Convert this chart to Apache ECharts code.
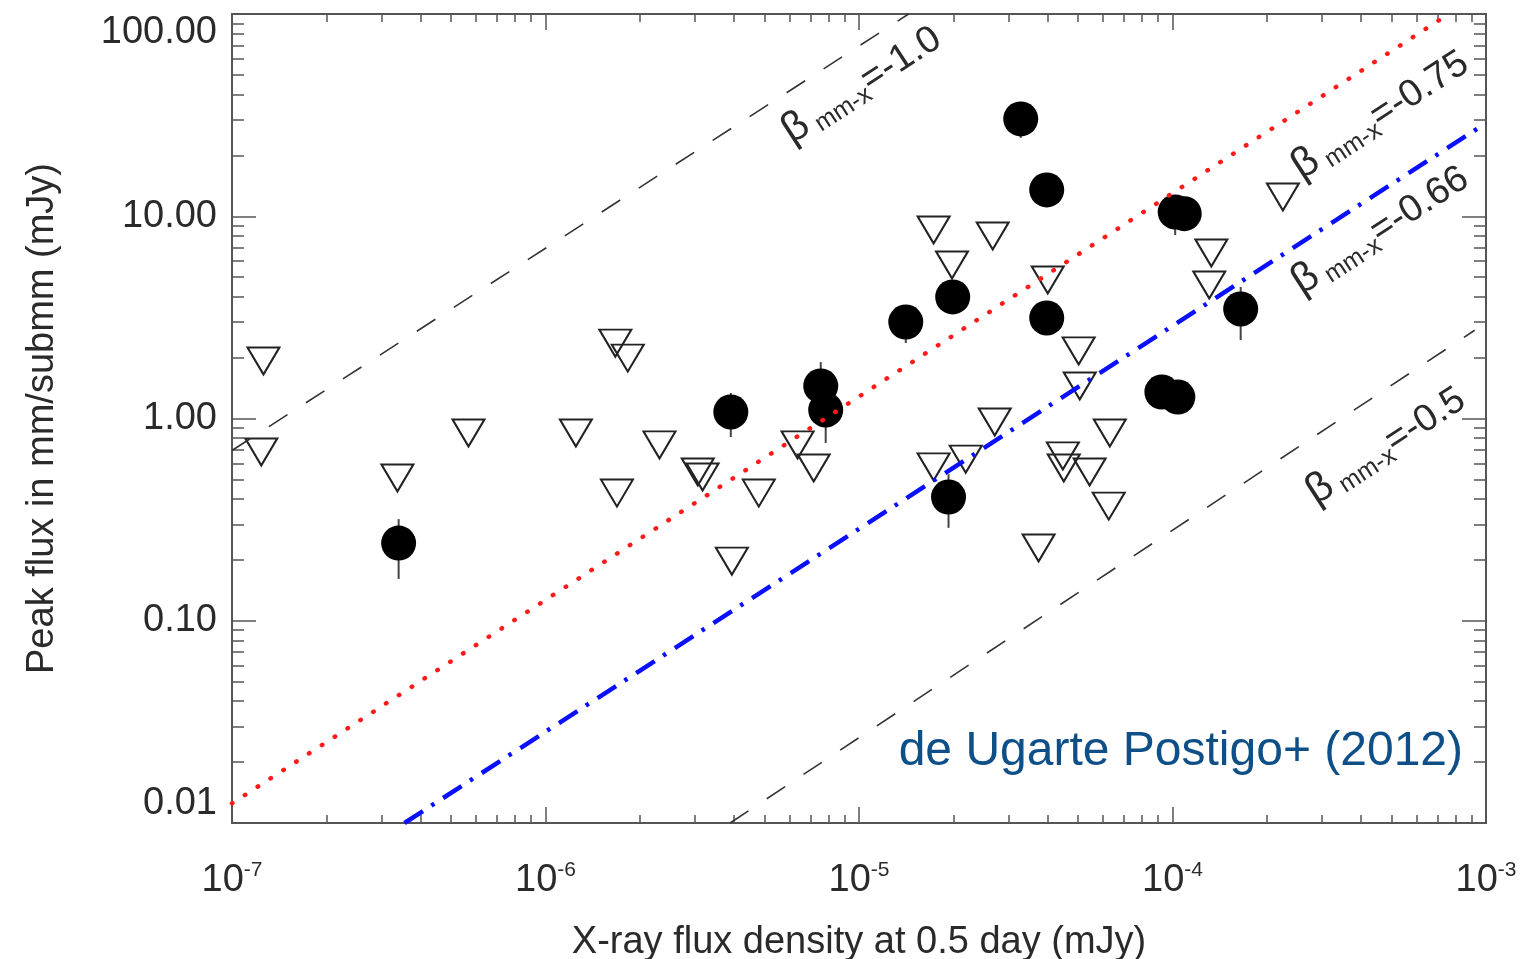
<!DOCTYPE html>
<html lang="en">

<head>
    <meta charset="UTF-8">
    <title>Peak flux vs X-ray flux</title>
    <style>
        html, body {
            margin: 0;
            padding: 0;
            background: #fff;
        }

        #chart {
            width: 1532px;
            height: 959px;
        }
    </style>
</head>

<body>
    <div id="chart"></div>
    <script src="https://cdn.jsdelivr.net/npm/echarts@6/dist/echarts.min.js"></script>
    <script>
        // detections (filled circles) with error bars
        var detX = [3.40e-7, 3.90e-6, 7.55e-6, 7.83e-6, 1.41e-5, 1.99e-5, 1.93e-5, 3.28e-5, 3.97e-5, 3.97e-5, 1.02e-4, 1.09e-4, 9.25e-5, 1.04e-4, 1.65e-4];
        var detY = [0.242, 1.077, 1.448, 1.102, 3.00, 3.99, 0.409, 30.3, 13.5, 3.14, 10.5, 10.3, 1.352, 1.277, 3.48];
        var detLo = [0.161, 0.810, 1.10, 0.757, 2.36, 3.60, 0.288, 24.4, 12.2, 2.85, 8.07, 8.6, 1.18, 1.12, 2.44];
        var detHi = [0.318, 1.337, 1.90, 1.447, 3.64, 4.40, 0.53, 36.2, 14.8, 3.43, 12.7, 12.0, 1.52, 1.43, 4.47];

        // upper limits (open triangles)
        var limX = [1.26e-7, 1.24e-7, 3.37e-7, 5.68e-7, 1.25e-6, 1.67e-6, 1.83e-6, 2.31e-6, 1.69e-6, 3.06e-6, 3.17e-6,
            4.79e-6, 3.93e-6, 6.37e-6, 7.17e-6, 1.73e-5, 2.67e-5, 1.98e-5, 4.00e-5, 5.02e-5, 5.06e-5, 2.71e-5,
            2.19e-5, 1.73e-5, 6.31e-5, 4.47e-5, 4.50e-5, 5.44e-5, 6.26e-5, 3.74e-5, 1.33e-4, 1.31e-4, 2.25e-4];
        var limY = [1.925, 0.683, 0.508, 0.848, 0.848, 2.36, 1.99, 0.740, 0.428, 0.544, 0.514,
            0.428, 0.197, 0.740, 0.569, 8.55, 7.99, 5.74, 4.84, 2.16, 1.448, 0.961,
            0.630, 0.576, 0.848, 0.653, 0.569, 0.544, 0.369, 0.229, 6.58, 4.57, 12.45];

        // guide lines, end points
        var lineBeta100 = [[1e-7, 0.695], [1.44e-5, 100]];
        var lineBeta075 = [[1e-7, 0.0125], [7.6e-4, 100]];
        var lineBeta066 = [[3.55e-7, 0.01], [1e-3, 28.9]];
        var lineBeta050 = [[3.88e-6, 0.01], [9.2e-4, 2.73]];

        // where the beta labels sit (data coords) and their text
        var betaLabelPos = [[1.02e-5, 44.5], [4.6e-4, 31.6], [4.6e-4, 8.5], [4.8e-4, 0.73]];
        var betaValues = ['-1.0', '-0.75', '-0.66', '-0.5'];

        // tick values
        var xMajor = [1e-7, 1e-6, 1e-5, 1e-4, 1e-3];
        var yMajor = [0.01, 0.1, 1, 10, 100];
        var minorSteps = [2, 3, 4, 5, 6, 7, 8, 9];

        function minorTicks(decades) {
            var out = [];
            for (var i = 0; i < decades.length - 1; i++) {
                for (var j = 0; j < minorSteps.length; j++) {
                    out.push(decades[i] * minorSteps[j]);
                }
            }
            return out;
        }
        var xMinor = minorTicks(xMajor);
        var yMinor = minorTicks(yMajor);

        var font = 'Liberation Sans';
        var axisColor = '#555';
        var textColor = '#2a2a2a';

        function xAxisDef(pos, major) {
            return {
                type: 'log',
                position: pos,
                min: 1e-7,
                max: 1e-3,
                logBase: 10,
                axisLine: { show: true, lineStyle: { color: axisColor, width: 2 } },
                axisTick: {
                    show: true,
                    inside: true,
                    length: major ? 16 : 8,
                    customValues: major ? xMajor : xMinor,
                    lineStyle: { color: axisColor, width: 1.5 }
                },
                axisLabel: { show: false },
                splitLine: { show: false }
            };
        }

        function yAxisDef(pos, major) {
            return {
                type: 'log',
                position: pos,
                min: 0.01,
                max: 100,
                logBase: 10,
                axisLine: { show: true, lineStyle: { color: axisColor, width: 2 } },
                axisTick: {
                    show: true,
                    inside: true,
                    length: major ? 24 : 12,
                    customValues: major ? yMajor : yMinor,
                    lineStyle: { color: axisColor, width: 1.5 }
                },
                axisLabel: { show: false },
                splitLine: { show: false }
            };
        }

        var xBottom = xAxisDef('bottom', true);
        xBottom.axisLabel = {
            show: true,
            customValues: xMajor,
            margin: 37,
            color: textColor,
            fontFamily: font,
            formatter: function (v) {
                return '{b|10}{e|' + Math.round(Math.log10(v)) + '}';
            },
            rich: {
                b: { fontSize: 38, lineHeight: 40, verticalAlign: 'bottom', color: textColor, fontFamily: font },
                e: { fontSize: 21, lineHeight: 22, verticalAlign: 'top', color: textColor, fontFamily: font }
            }
        };
        xBottom.name = 'X-ray flux density at 0.5 day (mJy)';
        xBottom.nameLocation = 'middle';
        xBottom.nameGap = 101;
        xBottom.nameTextStyle = { fontSize: 38, color: textColor, fontFamily: font };

        var yLeft = yAxisDef('left', true);
        yLeft.axisLabel = {
            show: true,
            customValues: yMajor,
            margin: 15,
            fontSize: 38,
            color: textColor,
            fontFamily: font,
            verticalAlignMinLabel: 'bottom',
            verticalAlignMaxLabel: 'top',
            formatter: function (v) {
                return v.toFixed(2);
            }
        };
        yLeft.name = 'Peak flux in mm/submm (mJy)';
        yLeft.nameLocation = 'middle';
        yLeft.nameGap = 170;
        yLeft.nameTextStyle = { fontSize: 38, color: textColor, fontFamily: font };

        var triangle = 'path://M0,0 L32,0 L16,27 Z';

        var chart = echarts.init(document.getElementById('chart'), null, { renderer: 'canvas' });
        var option = {
            backgroundColor: '#fff',
            animation: false,
            grid: { left: 232, right: 46, top: 14, bottom: 136, containLabel: false, outerBoundsMode: 'none' },
            xAxis: [xBottom, xAxisDef('bottom', false), xAxisDef('top', true), xAxisDef('top', false)],
            yAxis: [yLeft, yAxisDef('left', false), yAxisDef('right', true), yAxisDef('right', false)],
            graphic: [{
                type: 'text',
                x: 1463,
                y: 752,
                style: {
                    text: 'de Ugarte Postigo+ (2012)',
                    fill: '#0e4f87',
                    font: '48px "Liberation Sans"',
                    align: 'right',
                    verticalAlign: 'middle'
                }
            }],
            series: [{
                type: 'custom',
                name: 'errors',
                xAxisIndex: 0,
                yAxisIndex: 0,
                data: detX.map(function (x, i) { return [x, detLo[i], detHi[i]]; }),
                encode: { x: 0, y: [1, 2] },
                renderItem: function (params, api) {
                    var lo = api.coord([api.value(0), api.value(1)]);
                    var hi = api.coord([api.value(0), api.value(2)]);
                    return {
                        type: 'line',
                        shape: { x1: lo[0], y1: lo[1], x2: hi[0], y2: hi[1] },
                        style: { stroke: '#444', lineWidth: 2 }
                    };
                },
                z: 1
            }, {
                type: 'scatter',
                name: 'upper limits',
                symbol: triangle,
                symbolSize: [32, 27],
                itemStyle: { color: 'rgba(0,0,0,0)', borderColor: '#222', borderWidth: 2, opacity: 1 },
                data: limX.map(function (x, i) { return [x, limY[i]]; }),
                z: 2
            }, {
                type: 'scatter',
                name: 'detections',
                symbol: 'circle',
                symbolSize: 35,
                itemStyle: { color: '#000', opacity: 1 },
                data: detX.map(function (x, i) { return [x, detY[i]]; }),
                z: 3
            }, {
                type: 'line',
                data: lineBeta100,
                showSymbol: false,
                lineStyle: { color: '#333', width: 1.6, type: [22, 22] },
                z: 4
            }, {
                type: 'line',
                data: lineBeta050,
                showSymbol: false,
                lineStyle: { color: '#333', width: 1.6, type: [22, 22] },
                z: 4
            }, {
                type: 'line',
                data: lineBeta075,
                showSymbol: false,
                lineStyle: { color: '#ff1a1a', width: 4.5, type: [0.5, 14.8], cap: 'round' },
                z: 4
            }, {
                type: 'line',
                data: lineBeta066,
                showSymbol: false,
                lineStyle: { color: '#0a10ff', width: 4.5, type: [22, 10, 3.5, 10.5] },
                z: 4
            }, {
                type: 'scatter',
                name: 'beta labels',
                symbolSize: 0,
                silent: true,
                itemStyle: { opacity: 1 },
                data: betaLabelPos.map(function (p, i) {
                    return { value: p, label: { formatter: '{b|β}{s| mm-x}{t|=' + betaValues[i] + '}' } };
                }),
                label: {
                    show: true,
                    position: 'inside',
                    rotate: 33,
                    color: textColor,
                    rich: {
                        b: { fontSize: 42, lineHeight: 46, verticalAlign: 'middle', color: textColor, fontFamily: font },
                        s: { fontSize: 25, lineHeight: 26, verticalAlign: 'bottom', color: textColor, fontFamily: font },
                        t: { fontSize: 38, lineHeight: 46, verticalAlign: 'middle', color: textColor, fontFamily: font }
                    }
                },
                z: 5
            }]
        };
        chart.setOption(option);
    </script>
</body>

</html>
